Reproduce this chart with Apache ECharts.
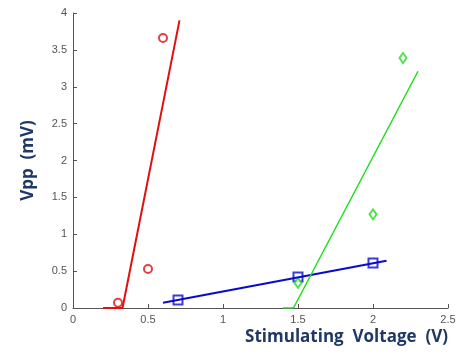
<!DOCTYPE html>
<html lang="en">
<head>
    <meta charset="UTF-8">
    <title>Vpp vs Stimulating Voltage</title>
    <style>
        body { margin: 0; background: #fff; }
        .div { width: 459px; height: 356px; }
    </style>
</head>
<body>
    <div class="div"></div>
    <script src="https://cdn.jsdelivr.net/npm/echarts@6/dist/echarts.min.js"></script>
    <script>
        // measured points
        var redX = [0.3, 0.5, 0.6]
        var redY = [0.07, 0.53, 3.66]
        var blueX = [0.7, 1.5, 2.0]
        var blueY = [0.11, 0.42, 0.61]
        var greenX = [1.5, 2.0, 2.2]
        var greenY = [0.34, 1.27, 3.39]
        // fitted lines
        var redFitX = [0.2, 0.33, 0.71]
        var redFitY = [0, 0, 3.9]
        var blueFitX = [0.6, 2.09]
        var blueFitY = [0.07, 0.64]
        var greenFitX = [1.4, 1.47, 2.3]
        var greenFitY = [0, 0, 3.21]

        var red = '#e01010', blue = '#0a0acc', green = '#22dd22'

        function pairs(xs, ys) {
            return xs.map(function (x, i) { return [x, ys[i]] })
        }

        var myecharts = echarts.init(document.getElementsByClassName('div')[0]);
        var axisGray = '#555'
        var option = {
            animation: false,
            grid: { left: 73, right: 11, top: 13, bottom: 48 },
            xAxis: {
                type: 'value', min: 0, max: 2.5, interval: 0.5,
                axisLine: { lineStyle: { color: axisGray } },
                axisTick: { inside: true, length: 4, lineStyle: { color: axisGray } },
                axisLabel: { color: '#555', fontSize: 11, fontFamily: 'Liberation Sans', margin: 6 },
                splitLine: { show: false },
                name: 'Stimulating  Voltage  (V)',
                nameLocation: 'end',
                nameGap: 0,
                nameTextStyle: {
                    color: '#1f3864', fontSize: 17, fontWeight: 'bold', fontFamily: 'Open Sans',
                    align: 'right', verticalAlign: 'top', padding: [21, 0, 0, 0]
                }
            },
            yAxis: {
                type: 'value', min: 0, max: 4, interval: 0.5,
                axisLine: { show: true, lineStyle: { color: axisGray } },
                axisTick: { show: true, inside: true, length: 4, lineStyle: { color: axisGray } },
                axisLabel: { color: '#555', fontSize: 11, fontFamily: 'Liberation Sans', margin: 6 },
                splitLine: { show: false },
                name: 'Vpp  (mV)',
                nameLocation: 'middle',
                nameGap: 36,
                nameTextStyle: { color: '#1f3864', fontSize: 17, fontWeight: 'bold', fontFamily: 'Open Sans' }
            },
            series: [
                { type: 'line', data: pairs(redFitX, redFitY), showSymbol: false, lineStyle: { color: red, width: 2 } },
                { type: 'line', data: pairs(blueFitX, blueFitY), showSymbol: false, lineStyle: { color: blue, width: 2 } },
                { type: 'line', data: pairs(greenFitX, greenFitY), showSymbol: false, lineStyle: { color: green, width: 1.5 } },
                { type: 'scatter', data: pairs(redX, redY), symbol: 'emptyCircle', symbolSize: 8, itemStyle: { color: red, borderColor: red, borderWidth: 1.5 } },
                { type: 'scatter', data: pairs(blueX, blueY), symbol: 'emptyRect', symbolSize: 9, itemStyle: { color: blue, borderColor: blue, borderWidth: 1.5 } },
                { type: 'scatter', data: pairs(greenX, greenY), symbol: 'emptyDiamond', symbolSize: [7, 10], itemStyle: { color: green, borderColor: green, borderWidth: 1.5 } }
            ]
        }
        myecharts.setOption(option);
    </script>
</body>
</html>
